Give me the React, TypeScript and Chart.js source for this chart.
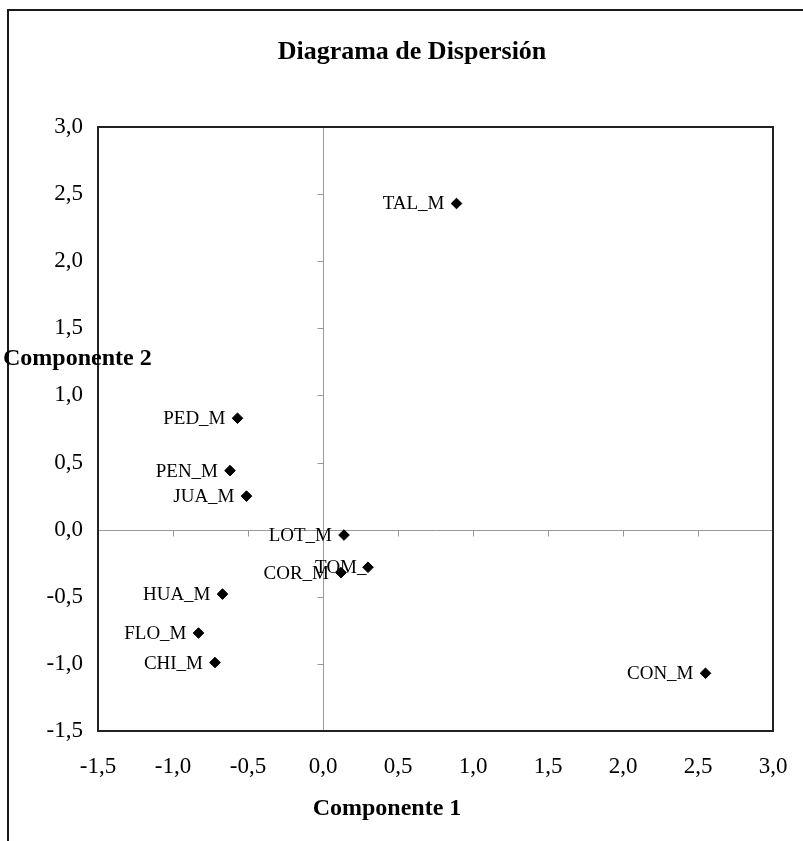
import React, { useEffect, useRef } from 'react';
import { Chart, registerables } from 'chart.js';

Chart.register(...registerables);

// ---- data ----
const pointNames = ['PED_M', 'PEN_M', 'JUA_M', 'LOT_M', 'TOM_', 'COR_M', 'HUA_M', 'FLO_M', 'CHI_M', 'TAL_M', 'CON_M'];
const componente1 = [-0.57, -0.62, -0.51, 0.14, 0.30, 0.12, -0.67, -0.83, -0.72, 0.89, 2.55];
const componente2 = [0.83, 0.44, 0.25, -0.04, -0.28, -0.32, -0.48, -0.77, -0.99, 2.43, -1.07];
const axisMin = -1.5;
const axisMax = 3.0;
const axisStep = 0.5;
const titleText = 'Diagrama de Dispersión';
const xTitleText = 'Componente 1';
const yTitleText = 'Componente 2';

const SERIF = "'Liberation Serif', 'Times New Roman', serif";
const fmt = (v: number) => Number(v).toFixed(1).replace('.', ',');

const labelGap = 12;
const labelGapOverride: Record<string, number> = { 'TOM_': 1.5 };

const decorPlugin = {
  id: 'decor',
  beforeDraw(chart: any) {
    const ctx = chart.ctx;
    ctx.save();
    ctx.fillStyle = '#ffffff';
    ctx.fillRect(0, 0, chart.width, chart.height);
    // outer box (extends beyond right/bottom edges)
    ctx.strokeStyle = '#1a1a1a';
    ctx.lineWidth = 2;
    ctx.strokeRect(8, 10, chart.width + 20, chart.height + 20);
    ctx.restore();
  },
  beforeDatasetsDraw(chart: any) {
    const ctx = chart.ctx;
    const { left, right, top, bottom } = chart.chartArea;
    const xs = chart.scales.x;
    const ys = chart.scales.y;
    const x0 = Math.round(xs.getPixelForValue(0)) + 0.5;
    const y0 = Math.round(ys.getPixelForValue(0)) + 0.5;
    ctx.save();
    // zero lines
    ctx.strokeStyle = '#999999';
    ctx.lineWidth = 1;
    ctx.beginPath();
    ctx.moveTo(x0, top);
    ctx.lineTo(x0, bottom);
    ctx.moveTo(left, y0);
    ctx.lineTo(right, y0);
    // tick marks on zero lines
    for (let v = axisMin; v <= axisMax + 1e-9; v += axisStep) {
      const px = Math.round(xs.getPixelForValue(v)) + 0.5;
      ctx.moveTo(px, y0);
      ctx.lineTo(px, y0 + 6);
      const py = Math.round(ys.getPixelForValue(v)) + 0.5;
      ctx.moveTo(x0, py);
      ctx.lineTo(x0 - 6, py);
    }
    ctx.stroke();
    // small red marks at ends of vertical zero line
    ctx.strokeStyle = '#e03030';
    ctx.beginPath();
    ctx.moveTo(x0, top - 1);
    ctx.lineTo(x0, top + 1);
    ctx.moveTo(x0, bottom - 1);
    ctx.lineTo(x0, bottom + 1);
    ctx.stroke();
    // plot frame
    ctx.strokeStyle = '#222222';
    ctx.lineWidth = 2;
    ctx.strokeRect(left, top, right - left, bottom - top);
    // point labels
    const meta = chart.getDatasetMeta(0);
    ctx.fillStyle = '#000000';
    ctx.font = `19px ${SERIF}`;
    ctx.textAlign = 'right';
    ctx.textBaseline = 'middle';
    meta.data.forEach((pt: any, i: number) => {
      const name = pointNames[i];
      const gap = labelGapOverride[name] ?? labelGap;
      ctx.fillText(name, pt.x - gap, pt.y + 1);
    });
    ctx.restore();
  },
  afterDraw(chart: any) {
    const ctx = chart.ctx;
    ctx.save();
    ctx.fillStyle = '#000000';
    ctx.textBaseline = 'middle';
    ctx.textAlign = 'center';
    ctx.font = `bold 26px ${SERIF}`;
    ctx.fillText(titleText, 412, 52);
    ctx.font = `bold 24px ${SERIF}`;
    ctx.fillText(xTitleText, 387, 809);
    ctx.textAlign = 'left';
    ctx.fillText(yTitleText, 3, 359);
    ctx.restore();
  },
};

export default function App() {
  const canvasRef = useRef<HTMLCanvasElement | null>(null);

  useEffect(() => {
    if (!canvasRef.current) return;
    Chart.defaults.font.family = SERIF;
    const tickFont = { family: SERIF, size: 23 };
    const chart = new Chart(canvasRef.current, {
      type: 'scatter',
      data: {
        datasets: [
          {
            data: componente1.map((x, i) => ({ x, y: componente2[i] })),
            pointStyle: 'rectRot',
            pointRadius: 5.3,
            pointHoverRadius: 5.3,
            backgroundColor: '#000000',
            borderColor: '#000000',
            borderWidth: 1,
          },
        ],
      },
      options: {
        animation: false,
        responsive: false,
        events: [],
        layout: { padding: { left: 0, top: 127, right: 30, bottom: 0 } },
        plugins: {
          legend: { display: false },
          tooltip: { enabled: false },
          title: { display: false },
        },
        scales: {
          x: {
            type: 'linear',
            min: axisMin,
            max: axisMax,
            ticks: {
              stepSize: axisStep,
              callback: (v: any) => fmt(v),
              font: tickFont,
              color: '#000000',
              padding: 22,
              maxRotation: 0,
              autoSkip: false,
            },
            grid: { display: false, drawTicks: false },
            border: { display: false },
            afterFit: (s: any) => {
              s.height = 110;
              s.paddingLeft = 0;
              s.paddingRight = 0;
            },
          },
          y: {
            type: 'linear',
            min: axisMin,
            max: axisMax,
            ticks: {
              stepSize: axisStep,
              callback: (v: any) => fmt(v),
              font: tickFont,
              color: '#000000',
              padding: 15,
              autoSkip: false,
            },
            grid: { display: false, drawTicks: false },
            border: { display: false },
            afterFit: (s: any) => {
              s.width = 98;
              s.paddingTop = 0;
              s.paddingBottom = 0;
            },
          },
        },
      } as any,
      plugins: [decorPlugin],
    });
    return () => chart.destroy();
  }, []);

  return (
    <div style={{ position: 'absolute', left: 0, top: 0, width: 803, height: 841, background: '#fff' }}>
      <canvas ref={canvasRef} width={803} height={841} style={{ display: 'block', width: 803, height: 841 }} />
    </div>
  );
}
